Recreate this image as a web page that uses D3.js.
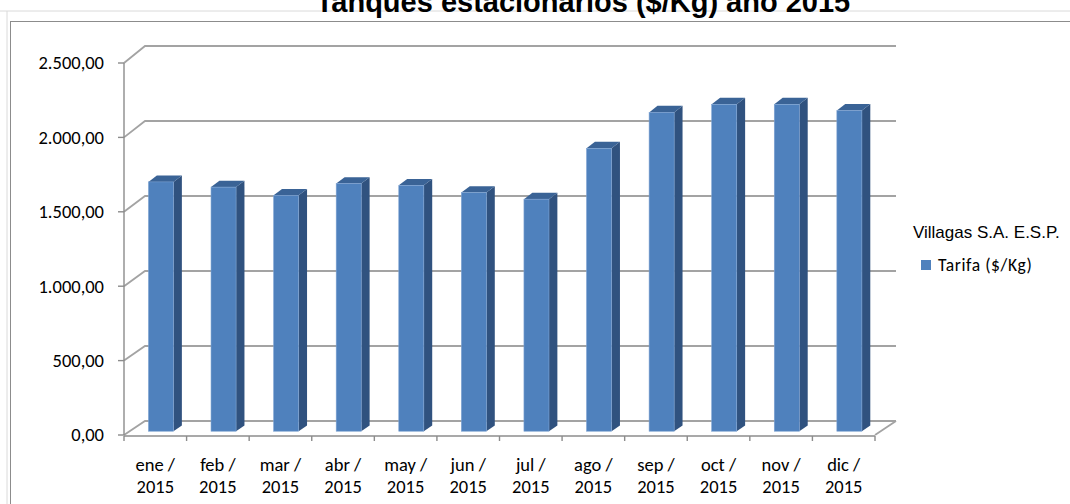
<!DOCTYPE html>
<html>
<head>
<meta charset="utf-8">
<script src="https://cdn.jsdelivr.net/npm/d3@7"></script>
<style>
  body { margin: 0; background: #fff; }
  svg { display: block; }
</style>
</head>
<body>
<svg id="chart" width="1070" height="504"></svg>
<script>
// Data
var categories = ["ene / 2015", "feb / 2015", "mar / 2015", "abr / 2015", "may / 2015", "jun / 2015",
                  "jul / 2015", "ago / 2015", "sep / 2015", "oct / 2015", "nov / 2015", "dic / 2015"];
var tarifa = [1672, 1637, 1582, 1661, 1649, 1600, 1556, 1897, 2138, 2192, 2192, 2150];
var yTicks = [0, 500, 1000, 1500, 2000, 2500];
var seriesName = "Tarifa ($/Kg)";
var legendTitle = "Villagas S.A. E.S.P.";
var title = "Tanques estacionarios ($/Kg)  año 2015";

// Colors
var faceColor = "#4f81bd";
var sideColor = "#30527f";
var topColor = "#3a6396";
var gridColor = "#a3a3a3";

var svg = d3.select("#chart");
var tickFont = "Carlito, Lato, 'Open Sans', sans-serif";

// 3D offsets (front -> back wall)
var DX = 21;
var depth0 = 0.27, depth1 = 0.67; // bar front/back depth fraction

var x = d3.scaleBand().domain(categories).range([124, 875]);
var yFront = d3.scaleLinear().domain([0, 2500]).range([435, 63]);
var yBack = d3.scaleLinear().domain([0, 2500]).range([421, 46]);

function yAt(v, t) { return yFront(v) * (1 - t) + yBack(v) * t; }

var locale = d3.formatLocale({decimal: ",", thousands: ".", grouping: [3], currency: ["$", ""]});
var fmt = locale.format(",.2f");

/* ****** spreadsheet background ****** */
svg.append("line").attr("x1", 0).attr("x2", 1070).attr("y1", 11).attr("y2", 11)
  .attr("stroke", "#dadada").attr("stroke-width", 1);
svg.append("line").attr("x1", 7).attr("x2", 7).attr("y1", 11).attr("y2", 504)
  .attr("stroke", "#dadada").attr("stroke-width", 1);

// title (cut off by the top of the picture, as in the reference)
svg.append("text").attr("x", 583).attr("y", 12)
  .attr("text-anchor", "middle")
  .style("font-family", "'Liberation Sans', Arial, sans-serif")
  .style("font-weight", "bold").style("font-size", "29px")
  .text(title);

// chart border
svg.append("rect").attr("x", 10.5).attr("y", 21.5).attr("width", 1080).attr("height", 500)
  .attr("fill", "none").attr("stroke", "#8c8c8c").attr("stroke-width", 1);

/* ****** walls / gridlines ****** */
var grid = svg.append("g");
var x0 = x.range()[0], x1 = x.range()[1];
grid.selectAll("path.grid").data(yTicks).enter().append("path")
  .attr("d", function (d) {
    return "M" + x0 + "," + yFront(d) + "L" + (x0 + DX) + "," + yBack(d) + "L" + (x1 + DX) + "," + yBack(d);
  })
  .attr("fill", "none").attr("stroke", gridColor).attr("stroke-width", 1.8);

// floor right edge
grid.append("line").attr("x1", x1).attr("y1", yFront(0)).attr("x2", x1 + DX).attr("y2", yBack(0))
  .attr("stroke", gridColor).attr("stroke-width", 1.8);

/* ****** bars ****** */
var bw = x.bandwidth() * 0.4;
var bars = svg.append("g").selectAll("g").data(categories).enter().append("g");

function barGeom(d, i) {
  var cx = x(d) + x.bandwidth() / 2;
  var v = tarifa[i];
  var fl = cx - bw / 2 + DX * depth0, fr = fl + bw;
  var bl = cx - bw / 2 + DX * depth1, br = bl + bw;
  return {fl: fl, fr: fr, bl: bl, br: br,
          ft: yAt(v, depth0), fb: yAt(0, depth0), bt: yAt(v, depth1), bb: yAt(0, depth1)};
}

bars.append("polygon")
  .attr("points", function (d, i) {
    var g = barGeom(d, i);
    return [[g.fr, g.ft], [g.br, g.bt], [g.br, g.bb], [g.fr, g.fb]].join(" ");
  })
  .attr("fill", sideColor);
bars.append("polygon")
  .attr("points", function (d, i) {
    var g = barGeom(d, i);
    return [[g.fl, g.ft], [g.fr, g.ft], [g.br, g.bt], [g.bl, g.bt]].join(" ");
  })
  .attr("fill", topColor);
bars.append("rect")
  .attr("x", function (d, i) { return barGeom(d, i).fl; })
  .attr("y", function (d, i) { return barGeom(d, i).ft; })
  .attr("width", bw)
  .attr("height", function (d, i) { var g = barGeom(d, i); return g.fb - g.ft; })
  .attr("fill", faceColor).attr("stroke", "#7ea3d2").attr("stroke-width", 0.6);

/* ****** axes ****** */
var axisColor = "#8c8c8c";
svg.append("line").attr("x1", x0).attr("x2", x0).attr("y1", yFront(2500)).attr("y2", yFront(0))
  .attr("stroke", axisColor).attr("stroke-width", 1.4);
svg.append("line").attr("x1", x0).attr("x2", x1).attr("y1", yFront(0) + 1).attr("y2", yFront(0) + 1)
  .attr("stroke", axisColor).attr("stroke-width", 1.4);

svg.selectAll("line.ytick").data(yTicks).enter().append("line")
  .attr("x1", x0 - 6).attr("x2", x0).attr("y1", function (d) { return yFront(d); })
  .attr("y2", function (d) { return yFront(d); })
  .attr("stroke", axisColor).attr("stroke-width", 1.4);

svg.selectAll("text.ylab").data(yTicks).enter().append("text")
  .attr("x", 104).attr("y", function (d) { return yFront(d); })
  .attr("dy", "0.35em").attr("text-anchor", "end")
  .style("font-family", tickFont).style("font-size", "18.5px").attr("fill", "#000")
  .text(function (d) { return fmt(d); });

var xTickPos = categories.map(function (d) { return x(d); }).concat([x1]);
svg.selectAll("line.xtick").data(xTickPos).enter().append("line")
  .attr("x1", function (d) { return d; }).attr("x2", function (d) { return d; })
  .attr("y1", yFront(0) + 1).attr("y2", yFront(0) + 6)
  .attr("stroke", axisColor).attr("stroke-width", 1.4);

var xlab = svg.selectAll("text.xlab").data(categories).enter().append("text")
  .attr("text-anchor", "middle")
  .style("font-family", tickFont).style("font-size", "18.5px").attr("fill", "#000");
xlab.append("tspan")
  .attr("x", function (d) { return x(d) + x.bandwidth() / 2; }).attr("y", 471)
  .text(function (d) { return d.split(" ")[0] + " /"; });
xlab.append("tspan")
  .attr("x", function (d) { return x(d) + x.bandwidth() / 2; }).attr("y", 493)
  .text(function (d) { return d.split(" ")[2]; });

/* ****** legend ****** */
svg.append("text").attr("x", 913).attr("y", 238)
  .style("font-family", "'Liberation Sans', Arial, sans-serif").style("font-size", "17px")
  .text(legendTitle);
svg.append("rect").attr("x", 921).attr("y", 260).attr("width", 10).attr("height", 10).attr("fill", faceColor);
svg.append("text").attr("x", 938).attr("y", 271)
  .style("font-family", tickFont).style("font-size", "17.5px").style("letter-spacing", "0.6px")
  .text(seriesName);
</script>
</body>
</html>
